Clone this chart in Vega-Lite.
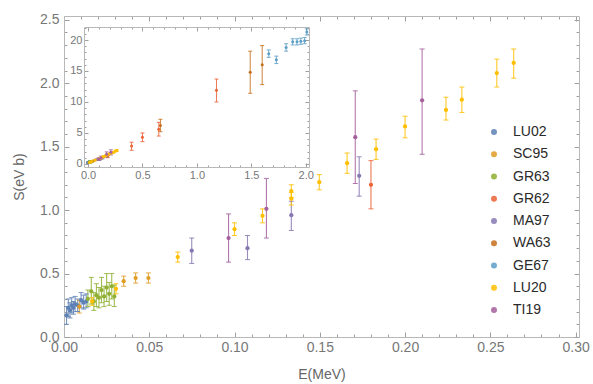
{
  "$schema": "https://vega.github.io/schema/vega-lite/v6.json",
  "width": 515,
  "height": 321,
  "autosize": {"type": "none"},
  "padding": {"left": 64, "top": 16, "right": 14, "bottom": 47},
  "background": "white",
  "config": {
    "view": {"stroke": null},
    "font": "Liberation Sans",
    "axis": {
      "grid": false,
      "domainColor": "#b8b8b8",
      "domainWidth": 1,
      "tickColor": "#a0a0a0",
      "tickWidth": 1,
      "labelColor": "#777777",
      "titleColor": "#666666",
      "labelFont": "Liberation Sans",
      "titleFont": "Liberation Sans",
      "titleFontWeight": "normal",
      "labelFlush": false,
      "labelBound": false
    }
  },
  "datasets": {
    "d": [
      {"set": "LU02", "E": 0.0015, "S": 0.17, "lo": 0.10, "hi": 0.24},
      {"set": "LU02", "E": 0.0025, "S": 0.23, "lo": 0.16, "hi": 0.30},
      {"set": "LU02", "E": 0.0035, "S": 0.21, "lo": 0.15, "hi": 0.27},
      {"set": "LU02", "E": 0.0045, "S": 0.25, "lo": 0.19, "hi": 0.31},
      {"set": "LU02", "E": 0.0055, "S": 0.23, "lo": 0.18, "hi": 0.28},
      {"set": "LU02", "E": 0.0065, "S": 0.26, "lo": 0.20, "hi": 0.32},
      {"set": "LU02", "E": 0.0080, "S": 0.25, "lo": 0.20, "hi": 0.30},
      {"set": "LU02", "E": 0.0100, "S": 0.29, "lo": 0.23, "hi": 0.35},
      {"set": "LU02", "E": 0.0115, "S": 0.27, "lo": 0.22, "hi": 0.33},
      {"set": "LU02", "E": 0.0130, "S": 0.28, "lo": 0.23, "hi": 0.34},
      {"set": "SC95", "E": 0.0090, "S": 0.24, "lo": 0.19, "hi": 0.29},
      {"set": "SC95", "E": 0.0350, "S": 0.44, "lo": 0.40, "hi": 0.48},
      {"set": "SC95", "E": 0.0420, "S": 0.465, "lo": 0.425, "hi": 0.505},
      {"set": "SC95", "E": 0.0495, "S": 0.465, "lo": 0.425, "hi": 0.505},
      {"set": "GR63", "E": 0.0140, "S": 0.30, "lo": 0.24, "hi": 0.37},
      {"set": "GR63", "E": 0.0160, "S": 0.36, "lo": 0.26, "hi": 0.47},
      {"set": "GR63", "E": 0.0175, "S": 0.28, "lo": 0.21, "hi": 0.35},
      {"set": "GR63", "E": 0.0190, "S": 0.33, "lo": 0.24, "hi": 0.42},
      {"set": "GR63", "E": 0.0205, "S": 0.31, "lo": 0.23, "hi": 0.39},
      {"set": "GR63", "E": 0.0220, "S": 0.37, "lo": 0.27, "hi": 0.47},
      {"set": "GR63", "E": 0.0235, "S": 0.32, "lo": 0.24, "hi": 0.40},
      {"set": "GR63", "E": 0.0250, "S": 0.39, "lo": 0.28, "hi": 0.50},
      {"set": "GR63", "E": 0.0265, "S": 0.34, "lo": 0.25, "hi": 0.43},
      {"set": "GR63", "E": 0.0280, "S": 0.40, "lo": 0.30, "hi": 0.50},
      {"set": "GR63", "E": 0.0295, "S": 0.32, "lo": 0.24, "hi": 0.41},
      {"set": "GR62", "E": 0.180, "S": 1.20, "lo": 1.01, "hi": 1.39},
      {"set": "GR62", "E": 0.40, "S": 2.9, "lo": 2.2, "hi": 3.5},
      {"set": "GR62", "E": 0.50, "S": 4.3, "lo": 3.6, "hi": 5.0},
      {"set": "GR62", "E": 0.65, "S": 5.6, "lo": 4.5, "hi": 6.7},
      {"set": "GR62", "E": 1.18, "S": 11.9, "lo": 10.0, "hi": 13.7},
      {"set": "MA97", "E": 0.0749, "S": 0.68, "lo": 0.58, "hi": 0.78},
      {"set": "MA97", "E": 0.1076, "S": 0.70, "lo": 0.61, "hi": 0.80},
      {"set": "MA97", "E": 0.1333, "S": 0.96, "lo": 0.84, "hi": 1.07},
      {"set": "MA97", "E": 0.1731, "S": 1.27, "lo": 1.11, "hi": 1.42},
      {"set": "WA63", "E": 0.665, "S": 6.2, "lo": 5.2, "hi": 7.2},
      {"set": "WA63", "E": 1.49, "S": 14.8, "lo": 11.4, "hi": 18.2},
      {"set": "WA63", "E": 1.60, "S": 16.0, "lo": 12.8, "hi": 19.1},
      {"set": "GE67", "E": 1.66, "S": 17.8, "lo": 17.2, "hi": 18.4},
      {"set": "GE67", "E": 1.73, "S": 16.8, "lo": 16.2, "hi": 17.4},
      {"set": "GE67", "E": 1.82, "S": 18.8, "lo": 18.2, "hi": 19.4},
      {"set": "GE67", "E": 1.88, "S": 19.7, "lo": 19.2, "hi": 20.2},
      {"set": "GE67", "E": 1.92, "S": 19.7, "lo": 19.2, "hi": 20.2},
      {"set": "GE67", "E": 1.955, "S": 19.8, "lo": 19.3, "hi": 20.3},
      {"set": "GE67", "E": 1.99, "S": 19.9, "lo": 19.4, "hi": 20.4},
      {"set": "GE67", "E": 2.01, "S": 21.3, "lo": 20.8, "hi": 21.8},
      {"set": "LU20", "E": 0.0165, "S": 0.28, "lo": 0.25, "hi": 0.31},
      {"set": "LU20", "E": 0.0305, "S": 0.38, "lo": 0.34, "hi": 0.42},
      {"set": "LU20", "E": 0.0667, "S": 0.63, "lo": 0.59, "hi": 0.67},
      {"set": "LU20", "E": 0.100, "S": 0.85, "lo": 0.80, "hi": 0.90},
      {"set": "LU20", "E": 0.1164, "S": 0.955, "lo": 0.90, "hi": 1.01},
      {"set": "LU20", "E": 0.1333, "S": 1.15, "lo": 1.10, "hi": 1.20},
      {"set": "LU20", "E": 0.1333, "S": 1.09, "lo": 1.04, "hi": 1.14},
      {"set": "LU20", "E": 0.1497, "S": 1.22, "lo": 1.16, "hi": 1.28},
      {"set": "LU20", "E": 0.166, "S": 1.37, "lo": 1.29, "hi": 1.45},
      {"set": "LU20", "E": 0.183, "S": 1.48, "lo": 1.40, "hi": 1.56},
      {"set": "LU20", "E": 0.200, "S": 1.66, "lo": 1.57, "hi": 1.74},
      {"set": "LU20", "E": 0.224, "S": 1.79, "lo": 1.71, "hi": 1.89},
      {"set": "LU20", "E": 0.2333, "S": 1.87, "lo": 1.77, "hi": 1.97},
      {"set": "LU20", "E": 0.2538, "S": 2.08, "lo": 1.97, "hi": 2.19},
      {"set": "LU20", "E": 0.2637, "S": 2.16, "lo": 2.04, "hi": 2.27},
      {"set": "TI19", "E": 0.0965, "S": 0.78, "lo": 0.59, "hi": 0.97},
      {"set": "TI19", "E": 0.1187, "S": 1.01, "lo": 0.78, "hi": 1.25},
      {"set": "TI19", "E": 0.1708, "S": 1.575, "lo": 1.21, "hi": 1.94},
      {"set": "TI19", "E": 0.210, "S": 1.865, "lo": 1.44, "hi": 2.27}
    ]
  },
  "data": {"name": "d"},
  "resolve": {
    "scale": {"x": "independent", "y": "independent"},
    "axis": {"x": "independent", "y": "independent"}
  },
  "layer": [
    {
      "transform": [{"filter": "datum.E <= 0.3"}],
      "encoding": {
        "x": {
          "field": "E", "type": "quantitative",
          "scale": {"domain": [0, 0.302], "nice": false, "zero": false},
          "axis": {
            "orient": "bottom",
            "values": [0, 0.01, 0.02, 0.03, 0.04, 0.05, 0.06, 0.07, 0.08, 0.09, 0.1, 0.11, 0.12, 0.13, 0.14, 0.15, 0.16, 0.17, 0.18, 0.19, 0.2, 0.21, 0.22, 0.23, 0.24, 0.25, 0.26, 0.27, 0.28, 0.29, 0.3],
            "labelExpr": "round(datum.value*100)%5==0 ? format(datum.value,'.2f') : ''",
            "tickSize": {"condition": {"test": "round(datum.value*100)%5==0", "value": -5}, "value": -3},
            "labelOverlap": false,
            "labelPadding": 8,
            "labelFontSize": 14,
            "title": "E(MeV)",
            "titleFontSize": 14,
            "titlePadding": 11
          }
        },
        "color": {
          "field": "set", "type": "nominal",
          "scale": {
            "domain": ["LU02", "SC95", "GR63", "GR62", "MA97", "WA63", "GE67", "LU20", "TI19"],
            "range": ["#5E81B5", "#E19C24", "#8FB032", "#EB6235", "#8778B3", "#C56E1A", "#5D9EC7", "#FFBF00", "#A5609D"]
          },
          "legend": {
            "orient": "none", "legendX": 423, "legendY": 109,
            "title": null, "labelFontSize": 14, "labelColor": "#2a2a2a",
            "labelFont": "Liberation Sans",
            "symbolSize": 20, "symbolType": "circle", "rowPadding": 8.25,
            "labelOffset": 12, "padding": 0
          }
        }
      },
      "layer": [
        {
          "mark": {"type": "rule", "strokeWidth": 1.1, "opacity": 0.85},
          "encoding": {
            "y": {
              "field": "lo", "type": "quantitative",
              "scale": {"domain": [0, 2.53], "nice": false, "zero": false},
              "axis": {"orient": "left", "values": [0, 0.1, 0.2, 0.3, 0.4, 0.5, 0.6, 0.7, 0.8, 0.9, 1, 1.1, 1.2, 1.3, 1.4, 1.5, 1.6, 1.7, 1.8, 1.9, 2, 2.1, 2.2, 2.3, 2.4, 2.5], "labelExpr": "round(datum.value*10)%5==0 ? format(datum.value,'.1f') : ''", "tickSize": {"condition": {"test": "round(datum.value*10)%5==0", "value": -5}, "value": -3}, "labelOverlap": false, "labelPadding": 10, "labelFontSize": 14, "title": "S(eV b)", "titleFontSize": 14, "titlePadding": 13}
            },
            "y2": {"field": "hi"}
          }
        },
        {
          "mark": {"type": "tick", "orient": "horizontal", "size": 5, "thickness": 1, "opacity": 0.85},
          "encoding": {
            "y": {
              "field": "lo", "type": "quantitative",
              "scale": {"domain": [0, 2.53], "nice": false, "zero": false},
              "axis": {"orient": "left", "values": [0, 0.1, 0.2, 0.3, 0.4, 0.5, 0.6, 0.7, 0.8, 0.9, 1, 1.1, 1.2, 1.3, 1.4, 1.5, 1.6, 1.7, 1.8, 1.9, 2, 2.1, 2.2, 2.3, 2.4, 2.5], "labelExpr": "round(datum.value*10)%5==0 ? format(datum.value,'.1f') : ''", "tickSize": {"condition": {"test": "round(datum.value*10)%5==0", "value": -5}, "value": -3}, "labelOverlap": false, "labelPadding": 10, "labelFontSize": 14, "title": "S(eV b)", "titleFontSize": 14, "titlePadding": 13}
            }
          }
        },
        {
          "mark": {"type": "tick", "orient": "horizontal", "size": 5, "thickness": 1, "opacity": 0.85},
          "encoding": {
            "y": {
              "field": "hi", "type": "quantitative",
              "scale": {"domain": [0, 2.53], "nice": false, "zero": false},
              "axis": {"orient": "left", "values": [0, 0.1, 0.2, 0.3, 0.4, 0.5, 0.6, 0.7, 0.8, 0.9, 1, 1.1, 1.2, 1.3, 1.4, 1.5, 1.6, 1.7, 1.8, 1.9, 2, 2.1, 2.2, 2.3, 2.4, 2.5], "labelExpr": "round(datum.value*10)%5==0 ? format(datum.value,'.1f') : ''", "tickSize": {"condition": {"test": "round(datum.value*10)%5==0", "value": -5}, "value": -3}, "labelOverlap": false, "labelPadding": 10, "labelFontSize": 14, "title": "S(eV b)", "titleFontSize": 14, "titlePadding": 13}
            }
          }
        },
        {
          "mark": {"type": "point", "filled": true, "size": 18, "opacity": 1},
          "encoding": {
            "y": {
              "field": "S", "type": "quantitative",
              "scale": {"domain": [0, 2.53], "nice": false, "zero": false},
              "axis": {"orient": "left", "values": [0, 0.1, 0.2, 0.3, 0.4, 0.5, 0.6, 0.7, 0.8, 0.9, 1, 1.1, 1.2, 1.3, 1.4, 1.5, 1.6, 1.7, 1.8, 1.9, 2, 2.1, 2.2, 2.3, 2.4, 2.5], "labelExpr": "round(datum.value*10)%5==0 ? format(datum.value,'.1f') : ''", "tickSize": {"condition": {"test": "round(datum.value*10)%5==0", "value": -5}, "value": -3}, "labelOverlap": false, "labelPadding": 10, "labelFontSize": 14, "title": "S(eV b)", "titleFontSize": 14, "titlePadding": 13}
            }
          }
        }
      ]
    },
    {
      "transform": [{"filter": "datum.E <= 0.3"}],
      "mark": {"type": "point", "opacity": 0},
      "encoding": {
        "x": {
          "field": "E", "type": "quantitative",
          "scale": {"domain": [0, 0.302], "nice": false, "zero": false},
          "axis": {
            "orient": "top", "labels": false, "title": null,
            "values": [0, 0.01, 0.02, 0.03, 0.04, 0.05, 0.06, 0.07, 0.08, 0.09, 0.1, 0.11, 0.12, 0.13, 0.14, 0.15, 0.16, 0.17, 0.18, 0.19, 0.2, 0.21, 0.22, 0.23, 0.24, 0.25, 0.26, 0.27, 0.28, 0.29, 0.3],
            "tickSize": {"condition": {"test": "round(datum.value*100)%5==0", "value": -5}, "value": -3}
          }
        },
        "y": {
          "field": "S", "type": "quantitative",
          "scale": {"domain": [0, 2.53], "nice": false, "zero": false},
          "axis": {
            "orient": "right", "labels": false, "title": null,
            "values": [0, 0.1, 0.2, 0.3, 0.4, 0.5, 0.6, 0.7, 0.8, 0.9, 1, 1.1, 1.2, 1.3, 1.4, 1.5, 1.6, 1.7, 1.8, 1.9, 2, 2.1, 2.2, 2.3, 2.4, 2.5],
            "tickSize": {"condition": {"test": "round(datum.value*10)%5==0", "value": -5}, "value": -3}
          }
        }
      }
    },
    {
      "encoding": {
        "x": {
          "field": "E", "type": "quantitative",
          "scale": {"domain": [-0.037, 2.03], "range": [20, 245], "nice": false, "zero": false},
          "axis": {
            "orient": "bottom", "offset": -170, "title": null,
            "values": [0, 0.1, 0.2, 0.3, 0.4, 0.5, 0.6, 0.7, 0.8, 0.9, 1, 1.1, 1.2, 1.3, 1.4, 1.5, 1.6, 1.7, 1.8, 1.9, 2],
            "labelExpr": "round(datum.value*10)%5==0 ? format(datum.value,'.1f') : ''",
            "tickSize": {"condition": {"test": "round(datum.value*10)%5==0", "value": -4}, "value": -2},
            "labelOverlap": false,
            "labelPadding": 6,
            "labelFontSize": 11
          }
        },
        "color": {"field": "set", "type": "nominal"}
      },
      "layer": [
        {
          "mark": {"type": "rule", "strokeWidth": 1, "opacity": 0.85},
          "encoding": {
            "y": {
              "field": "lo", "type": "quantitative",
              "scale": {"domain": [-0.5, 22.1], "range": [151, 11], "nice": false, "zero": false},
              "axis": {"orient": "left", "offset": -20, "title": null, "values": [0, 1, 2, 3, 4, 5, 6, 7, 8, 9, 10, 11, 12, 13, 14, 15, 16, 17, 18, 19, 20, 21, 22], "labelExpr": "datum.value%5==0 ? format(datum.value,'d') : ''", "tickSize": {"condition": {"test": "datum.value%5==0", "value": -4}, "value": -2}, "labelOverlap": false, "labelPadding": 6, "labelFontSize": 11}
            },
            "y2": {"field": "hi"}
          }
        },
        {
          "mark": {"type": "tick", "orient": "horizontal", "size": 4, "thickness": 1, "opacity": 0.85},
          "encoding": {
            "y": {
              "field": "lo", "type": "quantitative",
              "scale": {"domain": [-0.5, 22.1], "range": [151, 11], "nice": false, "zero": false},
              "axis": {"orient": "left", "offset": -20, "title": null, "values": [0, 1, 2, 3, 4, 5, 6, 7, 8, 9, 10, 11, 12, 13, 14, 15, 16, 17, 18, 19, 20, 21, 22], "labelExpr": "datum.value%5==0 ? format(datum.value,'d') : ''", "tickSize": {"condition": {"test": "datum.value%5==0", "value": -4}, "value": -2}, "labelOverlap": false, "labelPadding": 6, "labelFontSize": 11}
            }
          }
        },
        {
          "mark": {"type": "tick", "orient": "horizontal", "size": 4, "thickness": 1, "opacity": 0.85},
          "encoding": {
            "y": {
              "field": "hi", "type": "quantitative",
              "scale": {"domain": [-0.5, 22.1], "range": [151, 11], "nice": false, "zero": false},
              "axis": {"orient": "left", "offset": -20, "title": null, "values": [0, 1, 2, 3, 4, 5, 6, 7, 8, 9, 10, 11, 12, 13, 14, 15, 16, 17, 18, 19, 20, 21, 22], "labelExpr": "datum.value%5==0 ? format(datum.value,'d') : ''", "tickSize": {"condition": {"test": "datum.value%5==0", "value": -4}, "value": -2}, "labelOverlap": false, "labelPadding": 6, "labelFontSize": 11}
            }
          }
        },
        {
          "mark": {"type": "point", "filled": true, "size": 9, "opacity": 1},
          "encoding": {
            "y": {
              "field": "S", "type": "quantitative",
              "scale": {"domain": [-0.5, 22.1], "range": [151, 11], "nice": false, "zero": false},
              "axis": {"orient": "left", "offset": -20, "title": null, "values": [0, 1, 2, 3, 4, 5, 6, 7, 8, 9, 10, 11, 12, 13, 14, 15, 16, 17, 18, 19, 20, 21, 22], "labelExpr": "datum.value%5==0 ? format(datum.value,'d') : ''", "tickSize": {"condition": {"test": "datum.value%5==0", "value": -4}, "value": -2}, "labelOverlap": false, "labelPadding": 6, "labelFontSize": 11}
            }
          }
        }
      ]
    },
    {
      "mark": {"type": "point", "opacity": 0},
      "encoding": {
        "x": {
          "field": "E", "type": "quantitative",
          "scale": {"domain": [-0.037, 2.03], "range": [20, 245], "nice": false, "zero": false},
          "axis": {
            "orient": "top", "offset": -11, "title": null, "labels": false,
            "values": [0, 0.1, 0.2, 0.3, 0.4, 0.5, 0.6, 0.7, 0.8, 0.9, 1, 1.1, 1.2, 1.3, 1.4, 1.5, 1.6, 1.7, 1.8, 1.9, 2],
            "tickSize": {"condition": {"test": "round(datum.value*10)%5==0", "value": -4}, "value": -2}
          }
        },
        "y": {
          "field": "S", "type": "quantitative",
          "scale": {"domain": [-0.5, 22.1], "range": [151, 11], "nice": false, "zero": false},
          "axis": {
            "orient": "right", "offset": -270, "title": null, "labels": false,
            "values": [0, 1, 2, 3, 4, 5, 6, 7, 8, 9, 10, 11, 12, 13, 14, 15, 16, 17, 18, 19, 20, 21, 22],
            "tickSize": {"condition": {"test": "datum.value%5==0", "value": -4}, "value": -2}
          }
        }
      }
    }
  ]
}
